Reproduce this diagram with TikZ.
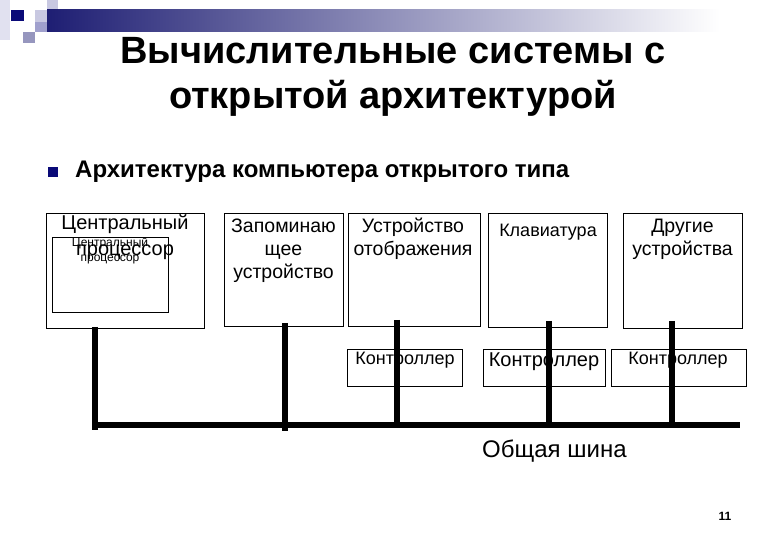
\documentclass[tikz,border=0pt]{standalone}
\usepackage{fontspec}
\setmainfont{Liberation Sans}
\definecolor{navy}{RGB}{10,10,120}
\definecolor{navybar}{RGB}{30,30,115}
\definecolor{lav1}{RGB}{225,225,240}
\definecolor{lav2}{RGB}{200,200,225}
\definecolor{lav3}{RGB}{160,160,205}
\definecolor{lav4}{RGB}{150,150,190}
\tikzset{
  box/.style={draw=black, line width=0.9pt, inner sep=0pt},
  bus/.style={line width=5.5pt, black},
  lbl/.style={inner sep=0pt, align=center, font=\fontsize{19.5}{23}\selectfont},
  ctl/.style={inner sep=0pt, font=\fontsize{18}{21}\selectfont},
}
\begin{document}
\begin{tikzpicture}[x=1pt,y=-1pt]
\useasboundingbox (0,0) rectangle (780,540);
% decoration
\fill[lav1] (0,0) rectangle (10,40);
\fill[lav2] (35,10) rectangle (47,22);
\fill[lav2] (47,0) rectangle (58,22);
\fill[lav3] (35,22) rectangle (47,32);
\fill[lav4] (23,32) rectangle (35,43);
\shade[left color=navybar, right color=white] (47,10) rectangle (720,32);
\fill[navy] (11,10) rectangle (24,21);
% title
\node[inner sep=0pt, align=center, font=\fontsize{38}{45}\bfseries\selectfont] (title) at (393,77)
  {Вычислительные системы с\\открытой архитектурой};
% bullet
\node[fill=navy, minimum size=10pt, inner sep=0pt] (bul) at (53,172) {};
\node[inner sep=0pt, anchor=west, font=\fontsize{24}{28}\bfseries\selectfont] (sub) at (75,172)
  {Архитектура компьютера открытого типа};
% boxes
\node[box, minimum width=158pt, minimum height=115pt] (cpu) at (125,270.5) {};
\node[box, minimum width=116pt, minimum height=75pt] (cpuin) at (110,274.5) {};
\node[inner sep=0pt, align=center, font=\fontsize{12}{15}\selectfont] (cpuintxt) at (110,251)
  {Центральный\\процессор};
\node[lbl, align=center, font=\fontsize{20}{26}\selectfont] (cputxt) at (125,237.5)
  {Центральный\\процессор};
\node[box, minimum width=119pt, minimum height=113pt] (mem) at (283.5,269.5) {};
\node[lbl] (memtxt) at (283.5,251) {Запоминаю\\щее\\устройство};
\node[box, minimum width=132pt, minimum height=113pt] (disp) at (414,269.5) {};
\node[lbl] (disptxt) at (413,239) {Устройство\\отображения};
\node[box, minimum width=119pt, minimum height=114pt] (kbd) at (547.5,270) {};
\node[lbl, font=\fontsize{18}{21}\selectfont] (kbdtxt) at (548,232) {Клавиатура};
\node[box, minimum width=119pt, minimum height=115pt] (oth) at (682.5,270.5) {};
\node[lbl] (othtxt) at (682.5,239) {Другие\\устройства};
% controllers
\node[box, minimum width=115pt, minimum height=37pt] (c1) at (405,367.5) {};
\node[ctl] (c1t) at (405,360) {Контроллер};
\node[box, minimum width=122pt, minimum height=37pt] (c2) at (544,367.5) {};
\node[ctl, font=\fontsize{20}{23}\selectfont] (c2t) at (544,362) {Контроллер};
\node[box, minimum width=135pt, minimum height=37pt] (c3) at (678.5,367.5) {};
\node[ctl] (c3t) at (678,360) {Контроллер};
% bus
\coordinate (busL) at (92,425);
\coordinate (busR) at (740,425);
\coordinate (v1t) at (95,327); \coordinate (v1b) at (95,430);
\coordinate (v2t) at (285,323); \coordinate (v2b) at (285,431);
\coordinate (v3t) at (397,320); \coordinate (v3b) at (397,425);
\coordinate (v4t) at (549,321); \coordinate (v4b) at (549,425);
\coordinate (v5t) at (672,321); \coordinate (v5b) at (672,425);
\draw[bus] (busL) -- (busR);
\draw[bus] (v1t) -- (v1b);
\draw[bus] (v2t) -- (v2b);
\draw[bus] (v3t) -- (v3b);
\draw[bus] (v4t) -- (v4b);
\draw[bus] (v5t) -- (v5b);
\node[inner sep=0pt, anchor=west, font=\fontsize{24}{28}\selectfont] (bustxt) at (482,451) {Общая шина};
\node[inner sep=0pt, font=\fontsize{12}{14}\bfseries\selectfont] (pg) at (725,516) {11};
\end{tikzpicture}
\end{document}
